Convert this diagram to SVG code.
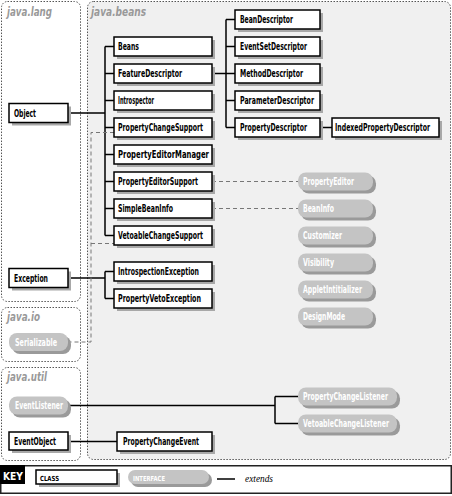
<svg xmlns="http://www.w3.org/2000/svg" width="452" height="496" viewBox="0 0 452 496">
<style>
.pkg{fill:#fff;stroke:#555;stroke-width:1;stroke-dasharray:1.5,1.5}
.pkgb{fill:#f0f0f0;stroke:#555;stroke-width:1;stroke-dasharray:1.5,1.5}
.pl{font-family:"DejaVu Sans Condensed","Liberation Sans",sans-serif;font-style:italic;font-weight:bold;font-size:13px;fill:#999}
.cb{fill:#fff;stroke:#000;stroke-width:1.5}
.cs{fill:#a8a8a8}
.ct{font-family:"DejaVu Sans Condensed","Liberation Sans",sans-serif;font-weight:bold;font-size:10px;fill:#000}
.ib{fill:#c4c4c4}
.is{fill:#9a9a9a}
.it{font-family:"DejaVu Sans Condensed","Liberation Sans",sans-serif;font-weight:bold;font-size:10px;fill:#fff}
.ln{fill:none;stroke:#000;stroke-width:1.5}
.dl{fill:none;stroke:#777;stroke-width:1;stroke-dasharray:4,3}
</style>
<g id="packages">
<rect class="pkgb" x="87.5" y="1.5" width="363" height="458" rx="6"/>
<rect class="pkg" x="1.5" y="1.5" width="79" height="300" rx="6"/>
<rect class="pkg" x="1.5" y="307.5" width="79" height="54" rx="6"/>
<rect class="pkg" x="1.5" y="367.5" width="79" height="93" rx="6"/>
<text class="pl" x="7" y="16" textLength="45" lengthAdjust="spacingAndGlyphs">java.lang</text>
<text class="pl" x="91" y="16" textLength="55" lengthAdjust="spacingAndGlyphs">java.beans</text>
<text class="pl" x="7" y="321" textLength="33" lengthAdjust="spacingAndGlyphs">java.io</text>
<text class="pl" x="7" y="381" textLength="40" lengthAdjust="spacingAndGlyphs">java.util</text>
</g>
<g id="connectors">
<path class="ln" d="M68,113H105M105,46.5V235.5M105,46.5H114M105,73.5H114M105,100.5H114M105,127.5H114M105,154.5H114M105,181.5H114M105,208.5H114M105,235.5H114"/>
<path class="ln" d="M68,278H105M105,271.5V298.5M105,271.5H114M105,298.5H114"/>
<path class="ln" d="M212,73.5H226M226,19.5V127.5M226,19.5H235M226,46.5H235M226,73.5H235M226,100.5H235M226,127.5H235"/>
<path class="ln" d="M320,127.5H332"/>
<path class="ln" d="M68,405.5H275M275,396.5V423.5M275,396.5H298M275,423.5H298"/>
<path class="ln" d="M68,441.5H117"/>
<path class="dl" d="M212,181.5H298M212,208.5H298"/>
<path class="dl" d="M114,132.5H91V342H68M91,243.5H114"/>
</g>
<g id="Object"><rect class="cs" x="12" y="106.5" width="59" height="19"/><rect class="cb" x="9" y="103.5" width="59" height="19"/><text class="ct" x="14" y="117" textLength="22" lengthAdjust="spacingAndGlyphs">Object</text></g>
<g id="Exception"><rect class="cs" x="12" y="271.5" width="59" height="19"/><rect class="cb" x="9" y="268.5" width="59" height="19"/><text class="ct" x="14" y="282" textLength="34" lengthAdjust="spacingAndGlyphs">Exception</text></g>
<g id="Beans"><rect class="cs" x="117" y="40" width="98" height="19"/><rect class="cb" x="114" y="37" width="98" height="19"/><text class="ct" x="118" y="50" textLength="21" lengthAdjust="spacingAndGlyphs">Beans</text></g>
<g id="FeatureDescriptor"><rect class="cs" x="117" y="67" width="98" height="19"/><rect class="cb" x="114" y="64" width="98" height="19"/><text class="ct" x="118" y="77" textLength="64" lengthAdjust="spacingAndGlyphs">FeatureDescriptor</text></g>
<g id="Introspector"><rect class="cs" x="117" y="94" width="98" height="19"/><rect class="cb" x="114" y="91" width="98" height="19"/><text class="ct" x="118" y="104" textLength="36" lengthAdjust="spacingAndGlyphs">Introspector</text></g>
<g id="PropertyChangeSupport"><rect class="cs" x="117" y="121" width="98" height="19"/><rect class="cb" x="114" y="118" width="98" height="19"/><text class="ct" x="118" y="131" textLength="85" lengthAdjust="spacingAndGlyphs">PropertyChangeSupport</text></g>
<g id="PropertyEditorManager"><rect class="cs" x="117" y="148" width="98" height="19"/><rect class="cb" x="114" y="145" width="98" height="19"/><text class="ct" x="118" y="158" textLength="91" lengthAdjust="spacingAndGlyphs">PropertyEditorManager</text></g>
<g id="PropertyEditorSupport"><rect class="cs" x="117" y="175" width="98" height="19"/><rect class="cb" x="114" y="172" width="98" height="19"/><text class="ct" x="118" y="185" textLength="80" lengthAdjust="spacingAndGlyphs">PropertyEditorSupport</text></g>
<g id="SimpleBeanInfo"><rect class="cs" x="117" y="202" width="98" height="19"/><rect class="cb" x="114" y="199" width="98" height="19"/><text class="ct" x="118" y="212" textLength="55" lengthAdjust="spacingAndGlyphs">SimpleBeanInfo</text></g>
<g id="VetoableChangeSupport"><rect class="cs" x="117" y="229" width="98" height="19"/><rect class="cb" x="114" y="226" width="98" height="19"/><text class="ct" x="118" y="239" textLength="85" lengthAdjust="spacingAndGlyphs">VetoableChangeSupport</text></g>
<g id="IntrospectionException"><rect class="cs" x="117" y="265" width="98" height="19"/><rect class="cb" x="114" y="262" width="98" height="19"/><text class="ct" x="118" y="275" textLength="81" lengthAdjust="spacingAndGlyphs">IntrospectionException</text></g>
<g id="PropertyVetoException"><rect class="cs" x="117" y="292" width="98" height="19"/><rect class="cb" x="114" y="289" width="98" height="19"/><text class="ct" x="118" y="302" textLength="83" lengthAdjust="spacingAndGlyphs">PropertyVetoException</text></g>
<g id="BeanDescriptor"><rect class="cs" x="238" y="13" width="85" height="19"/><rect class="cb" x="235" y="10" width="85" height="19"/><text class="ct" x="240" y="23" textLength="53" lengthAdjust="spacingAndGlyphs">BeanDescriptor</text></g>
<g id="EventSetDescriptor"><rect class="cs" x="238" y="40" width="85" height="19"/><rect class="cb" x="235" y="37" width="85" height="19"/><text class="ct" x="240" y="50" textLength="67" lengthAdjust="spacingAndGlyphs">EventSetDescriptor</text></g>
<g id="MethodDescriptor"><rect class="cs" x="238" y="67" width="85" height="19"/><rect class="cb" x="235" y="64" width="85" height="19"/><text class="ct" x="240" y="77" textLength="63" lengthAdjust="spacingAndGlyphs">MethodDescriptor</text></g>
<g id="ParameterDescriptor"><rect class="cs" x="238" y="94" width="85" height="19"/><rect class="cb" x="235" y="91" width="85" height="19"/><text class="ct" x="240" y="104" textLength="74" lengthAdjust="spacingAndGlyphs">ParameterDescriptor</text></g>
<g id="PropertyDescriptor"><rect class="cs" x="238" y="121" width="85" height="19"/><rect class="cb" x="235" y="118" width="85" height="19"/><text class="ct" x="240" y="131" textLength="67" lengthAdjust="spacingAndGlyphs">PropertyDescriptor</text></g>
<g id="IndexedPropertyDescriptor"><rect class="cs" x="335" y="121" width="107" height="19"/><rect class="cb" x="332" y="118" width="107" height="19"/><text class="ct" x="335" y="131" textLength="95" lengthAdjust="spacingAndGlyphs">IndexedPropertyDescriptor</text></g>
<g id="PropertyEditor"><rect class="is" x="301" y="175.5" width="75" height="18" rx="8"/><rect class="ib" x="298" y="172.5" width="75" height="18" rx="8"/><text class="it" x="303" y="185" textLength="51" lengthAdjust="spacingAndGlyphs">PropertyEditor</text></g>
<g id="BeanInfo"><rect class="is" x="301" y="202.5" width="75" height="18" rx="8"/><rect class="ib" x="298" y="199.5" width="75" height="18" rx="8"/><text class="it" x="303" y="212" textLength="31" lengthAdjust="spacingAndGlyphs">BeanInfo</text></g>
<g id="Customizer"><rect class="is" x="301" y="229.5" width="75" height="18" rx="8"/><rect class="ib" x="298" y="226.5" width="75" height="18" rx="8"/><text class="it" x="303" y="239" textLength="39" lengthAdjust="spacingAndGlyphs">Customizer</text></g>
<g id="Visibility"><rect class="is" x="301" y="256.5" width="75" height="18" rx="8"/><rect class="ib" x="298" y="253.5" width="75" height="18" rx="8"/><text class="it" x="303" y="266" textLength="31" lengthAdjust="spacingAndGlyphs">Visibility</text></g>
<g id="AppletIntitializer"><rect class="is" x="301" y="283.5" width="75" height="18" rx="8"/><rect class="ib" x="298" y="280.5" width="75" height="18" rx="8"/><text class="it" x="303" y="293" textLength="59" lengthAdjust="spacingAndGlyphs">AppletIntitializer</text></g>
<g id="DesignMode"><rect class="is" x="301" y="310.5" width="75" height="18" rx="8"/><rect class="ib" x="298" y="307.5" width="75" height="18" rx="8"/><text class="it" x="303" y="320" textLength="42" lengthAdjust="spacingAndGlyphs">DesignMode</text></g>
<g id="Serializable"><rect class="is" x="12" y="336" width="59" height="18" rx="8"/><rect class="ib" x="9" y="333" width="59" height="18" rx="8"/><text class="it" x="15" y="345.5" textLength="42" lengthAdjust="spacingAndGlyphs">Serializable</text></g>
<g id="EventListener"><rect class="is" x="12" y="399.5" width="59" height="18" rx="8"/><rect class="ib" x="9" y="396.5" width="59" height="18" rx="8"/><text class="it" x="15" y="409" textLength="48" lengthAdjust="spacingAndGlyphs">EventListener</text></g>
<g id="PropertyChangeListener"><rect class="is" x="301" y="390.5" width="99" height="18" rx="8"/><rect class="ib" x="298" y="387.5" width="99" height="18" rx="8"/><text class="it" x="303" y="400" textLength="85" lengthAdjust="spacingAndGlyphs">PropertyChangeListener</text></g>
<g id="VetoableChangeListener"><rect class="is" x="301" y="417.5" width="99" height="18" rx="8"/><rect class="ib" x="298" y="414.5" width="99" height="18" rx="8"/><text class="it" x="303" y="427" textLength="86" lengthAdjust="spacingAndGlyphs">VetoableChangeListener</text></g>
<g id="EventObject"><rect class="cs" x="12" y="435" width="59" height="18"/><rect class="cb" x="9" y="432" width="59" height="18"/><text class="ct" x="14" y="444.5" textLength="42" lengthAdjust="spacingAndGlyphs">EventObject</text></g>
<g id="PropertyChangeEvent"><rect class="cs" x="120" y="435" width="95" height="19"/><rect class="cb" x="117" y="432" width="95" height="19"/><text class="ct" x="123" y="445" textLength="76" lengthAdjust="spacingAndGlyphs">PropertyChangeEvent</text></g>
<g id="key">
<rect x="0.75" y="465.75" width="450.5" height="27.5" fill="#fff" stroke="#222" stroke-width="1.5"/>
<rect x="0" y="465" width="25" height="19" fill="#000"/>
<text x="3" y="480" font-family="DejaVu Sans Condensed,Liberation Sans,sans-serif" font-weight="bold" font-size="11" fill="#fff" textLength="20" lengthAdjust="spacingAndGlyphs">KEY</text>
<rect class="cs" x="39" y="473" width="81" height="14"/><rect class="cb" x="36" y="470" width="81" height="14"/>
<text x="40" y="480.5" font-family="DejaVu Sans Condensed,Liberation Sans,sans-serif" font-weight="bold" font-size="7" fill="#000" textLength="19" lengthAdjust="spacingAndGlyphs">CLASS</text>
<rect class="is" x="131" y="473" width="81" height="14" rx="7"/><rect class="ib" x="128" y="470" width="81" height="14" rx="7"/>
<text x="133" y="480.5" font-family="DejaVu Sans Condensed,Liberation Sans,sans-serif" font-weight="bold" font-size="7" fill="#fff" textLength="32" lengthAdjust="spacingAndGlyphs">INTERFACE</text>
<path class="ln" d="M217,479H235"/>
<text x="245" y="482" font-family="Liberation Serif,serif" font-style="italic" font-size="10" fill="#000" textLength="28" lengthAdjust="spacingAndGlyphs">extends</text>
</g>
</svg>
